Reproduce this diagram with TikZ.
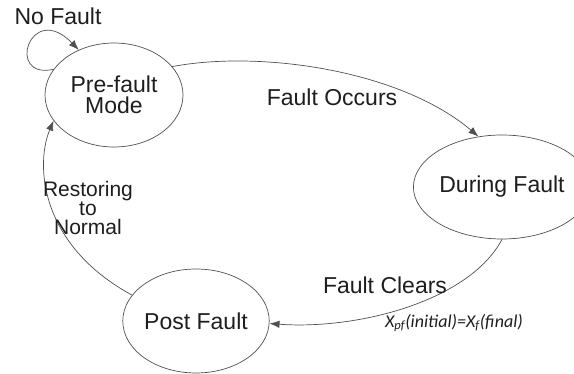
\documentclass[tikz,border=0pt]{standalone}
\usepackage{fontspec}
\setmainfont{Liberation Sans}
\newfontfamily\calfont{Carlito}
\usetikzlibrary{arrows.meta,shapes.geometric}
\definecolor{linegray}{HTML}{505050}
\definecolor{txt}{HTML}{1E1E1E}
\tikzset{
  stnode/.style={ellipse,draw=linegray,line width=0.7pt,minimum width=138pt,minimum height=104pt,inner sep=0pt,align=center,text=txt,font=\fontsize{23}{21}\selectfont},
  conn/.style={draw=linegray,line width=0.7pt,-{Latex[length=10pt,width=7.5pt]}},
  lab/.style={text=txt,font=\fontsize{23}{21}\selectfont,inner sep=0pt,align=center},
}
\begin{document}
\begin{tikzpicture}[x=1pt,y=1pt]
\useasboundingbox (0,0) rectangle (574,374);
\node[stnode] (pre) at (114,279) {Pre-fault\\Mode};
\node[stnode] (dur) at (502,187) {During Fault};
\node[stnode] (post) at (196,53) {Post Fault};
\draw[conn] (pre.26) .. controls (260,324) and (400,304) .. (dur.115.6);
\draw[conn] (dur.270) .. controls (470,74) and (360,44) .. (post.-2);
\draw[conn] (post.158) .. controls (40,129) and (35,209) .. (pre.203.6);
\draw[conn] (pre.157.7) .. controls (5,294) and (30,374) .. (pre.128.3);
\node[lab] (lnf) at (58,358) {No Fault};
\node[lab] (lfo) at (332,277) {Fault Occurs};
\node[lab] (lfc) at (385,89) {Fault Clears};
\node[text=txt,inner sep=0pt] (lx) at (454,51) {\calfont\itshape\fontsize{18}{18}\selectfont X\textsubscript{pf}(initial)=X\textsubscript{f}(final)};
\node[lab,font=\fontsize{21}{19}\selectfont] (lrn) at (88,166) {Restoring\\to\\Normal};
\end{tikzpicture}
\end{document}
